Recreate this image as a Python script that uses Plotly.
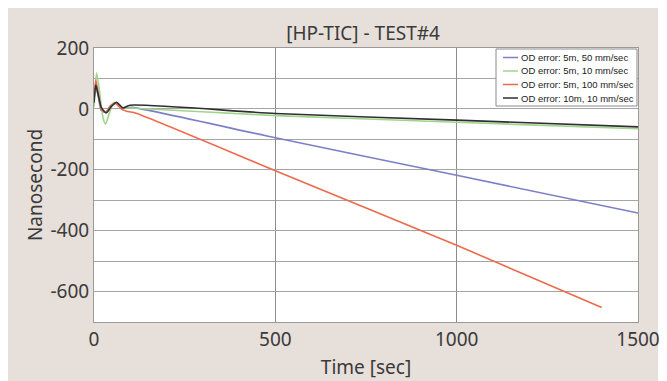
import plotly.graph_objects as go

# ---- data ----
t_blue = [0, 5, 12, 20, 32, 45, 60, 75, 90, 105, 500, 1000, 1500]
v_blue = [30, 72, 40, -5, -12, 10, 20, 5, 3, 5, -95, -218, -342]

t_green = [0, 7, 15, 25, 32, 42, 55, 70, 85, 100, 500, 1000, 1500]
v_green = [5, 118, 60, -30, -50, -15, 22, 8, 3, 3, -22, -44, -65]

t_red = [0, 5, 12, 20, 32, 45, 60, 75, 90, 110, 500, 1000, 1400]
v_red = [35, 95, 50, 0, -12, 8, 18, 0, -8, -12, -203, -448, -652]

t_black = [0, 5, 12, 20, 34, 48, 62, 80, 99, 500, 1000, 1500]
v_black = [20, 78, 45, 5, -13, 8, 22, 3, 12, -15, -37, -59]

names = ["OD error: 5m, 50 mm/sec", "OD error: 5m, 10 mm/sec",
         "OD error: 5m, 100 mm/sec", "OD error: 10m, 10 mm/sec"]
colors = ["#7c7fc6", "#9ed48c", "#ec6a4c", "#2f2f2f"]

x_ticks = [0, 500, 1000, 1500]
y_ticks = [200, 0, -200, -400, -600]

fig = go.Figure()
for t, v, n, c in zip([t_blue, t_green, t_red, t_black],
                      [v_blue, v_green, v_red, v_black], names, colors):
    fig.add_trace(go.Scatter(x=t, y=v, name=n, mode="lines", showlegend=False,
                             line=dict(color=c, width=1.6, shape="spline", smoothing=0.6)))

font_main = "Noto Sans"
txt = "#3a3a3a"

# plot area in pixels: x 94..638, y 48..322
def px(x):
    return (x - 94) / 544.0

def py(y):
    return (322 - y) / 274.0

shapes = [
    dict(type="rect", xref="paper", yref="paper", x0=px(8), x1=px(658),
         y0=py(395), y1=py(8), fillcolor="#e7dfd9", line=dict(width=0), layer="below"),
    dict(type="rect", xref="paper", yref="paper", x0=0, x1=1, y0=0, y1=1,
         fillcolor="white", line=dict(width=0), layer="below"),
    # legend box
    dict(type="rect", xref="paper", yref="paper", x0=px(496), x1=px(637),
         y0=py(106), y1=py(49), fillcolor="white",
         line=dict(color="#8a8a8a", width=1), layer="above"),
]
annotations = []
rows = [57.5, 71.0, 84.5, 98.0]
for n, c, r in zip(names, colors, rows):
    shapes.append(dict(type="line", xref="paper", yref="paper", x0=px(503), x1=px(518),
                       y0=py(r), y1=py(r), line=dict(color=c, width=1.5), layer="above"))
    annotations.append(dict(text=n, xref="paper", yref="paper", x=px(518.5), y=py(r),
                            xanchor="left", yanchor="middle", showarrow=False,
                            font=dict(family="Liberation Sans", size=9.5, color="#222")))

fig.update_layout(
    width=667, height=381,
    margin=dict(l=94, r=29, t=48, b=59, autoexpand=False),
    paper_bgcolor="white",
    plot_bgcolor="white",
    title=dict(text="[HP-TIC] - TEST#4", x=363 / 667, xanchor="center",
               y=1 - 33 / 381, yanchor="middle",
               font=dict(family=font_main, size=19, color=txt)),
    showlegend=False,
    shapes=shapes,
    annotations=annotations,
)

fig.update_xaxes(
    range=[0, 1500], tickvals=x_ticks, ticktext=[str(v) for v in x_ticks],
    automargin=False,
    showgrid=True, gridcolor="#8c8c8c", gridwidth=1, zeroline=False,
    showline=True, linecolor="#9a9a9a", mirror=True, ticks="",
    tickfont=dict(family=font_main, size=19, color=txt),
    title=dict(text="Time [sec]", font=dict(family=font_main, size=19, color=txt), standoff=9),
)
fig.update_yaxes(
    range=[-700, 200], tickvals=y_ticks, ticktext=[str(v) for v in y_ticks],
    automargin=False,
    showgrid=True, gridcolor="#a5a5a5", gridwidth=1.3, zeroline=False,
    minor=dict(dtick=100, tick0=0, showgrid=True, gridcolor="#a5a5a5", gridwidth=1.3),
    showline=True, linecolor="#9a9a9a", mirror=True, ticks="",
    tickfont=dict(family=font_main, size=19, color=txt),
    title=dict(text="Nanosecond", font=dict(family=font_main, size=19, color=txt), standoff=2),
)

fig.write_html("out.html")
